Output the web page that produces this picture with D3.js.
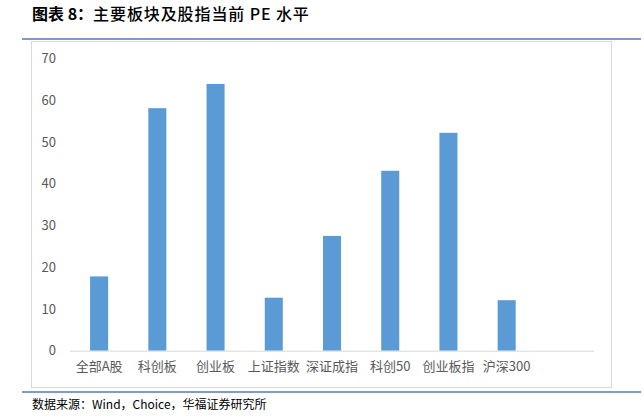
<!DOCTYPE html>
<html>
<head>
<meta charset="utf-8">
<script src="https://cdn.jsdelivr.net/npm/d3@7"></script>
<style>
  html, body { margin: 0; padding: 0; background: #fff; }
  svg { display: block; }
</style>
</head>
<body>
<svg id="chart" width="644" height="416"></svg>
<script>
const categories = ["全部A股", "科创板", "创业板", "上证指数", "深证成指", "科创50", "创业板指", "沪深300"];
const peValues = [17.8, 58.1, 63.9, 12.7, 27.5, 43.1, 52.2, 12.1];
const yTicks = [0, 10, 20, 30, 40, 50, 60, 70];
const titleLead = "图表 8：";
const titleRest = "主要板块及股指当前 PE 水平";
const sourceText = "数据来源：Wind，Choice，华福证券研究所";

const svg = d3.select("#chart");
const cjk = "'Noto Sans CJK SC', 'Noto Sans', sans-serif";

// title
const title = svg.append("text")
  .attr("x", 32).attr("y", 20)
  .attr("font-family", cjk).attr("font-size", 16)
  .attr("fill", "#000");
title.append("tspan").attr("font-weight", "bold").text(titleLead);
title.append("tspan").attr("font-weight", 500).attr("letter-spacing", 0.9).text(titleRest);

// top and bottom rules
svg.append("line").attr("x1", 22).attr("x2", 641).attr("y1", 39).attr("y2", 39)
  .attr("stroke", "#7f9bcb").attr("stroke-width", 2);
svg.append("line").attr("x1", 22).attr("x2", 641).attr("y1", 392).attr("y2", 392)
  .attr("stroke", "#7f9bcb").attr("stroke-width", 2);

// chart frame
svg.append("rect").attr("x", 31.5).attr("y", 41.5).attr("width", 580).attr("height", 346)
  .attr("fill", "#fff").attr("stroke", "#d9d9d9").attr("stroke-width", 1);

// source
svg.append("text")
  .attr("x", 32).attr("y", 409)
  .attr("font-family", cjk).attr("font-size", 12)
  .attr("fill", "#000")
  .text(sourceText);

// scales
const x = d3.scaleBand()
  .domain([...categories, "__empty__"])
  .range([70, 594])
  .paddingInner(0.69).paddingOuter(0.345);
const y = d3.scaleLinear().domain([0, 70]).range([350.7, 58.5]);

// bars
svg.append("g").selectAll("rect")
  .data(categories.map((c, i) => ({ c, v: peValues[i] })))
  .join("rect")
  .attr("x", d => x(d.c))
  .attr("width", x.bandwidth())
  .attr("y", d => y(d.v))
  .attr("height", d => y(0) - y(d.v))
  .attr("fill", "#5b9bd5");

// x axis line
svg.append("line").attr("x1", 70).attr("x2", 594).attr("y1", y(0) + 0.5).attr("y2", y(0) + 0.5)
  .attr("stroke", "#d9d9d9").attr("stroke-width", 1);

// y axis labels
const yAxis = d3.axisLeft(y).tickValues(yTicks).tickSize(0).tickPadding(0);
const yg = svg.append("g").attr("transform", "translate(56,0)").call(yAxis);
yg.select(".domain").remove();
yg.selectAll("text")
  .attr("font-family", cjk).attr("font-size", 13).attr("fill", "#595959");

// x axis labels
const xAxis = d3.axisBottom(x).tickValues(categories).tickSize(0).tickPadding(0);
const xg = svg.append("g").attr("transform", "translate(0,362)").call(xAxis);
xg.select(".domain").remove();
xg.selectAll("text")
  .attr("font-family", cjk).attr("font-size", 13).attr("fill", "#595959");
</script>
</body>
</html>
